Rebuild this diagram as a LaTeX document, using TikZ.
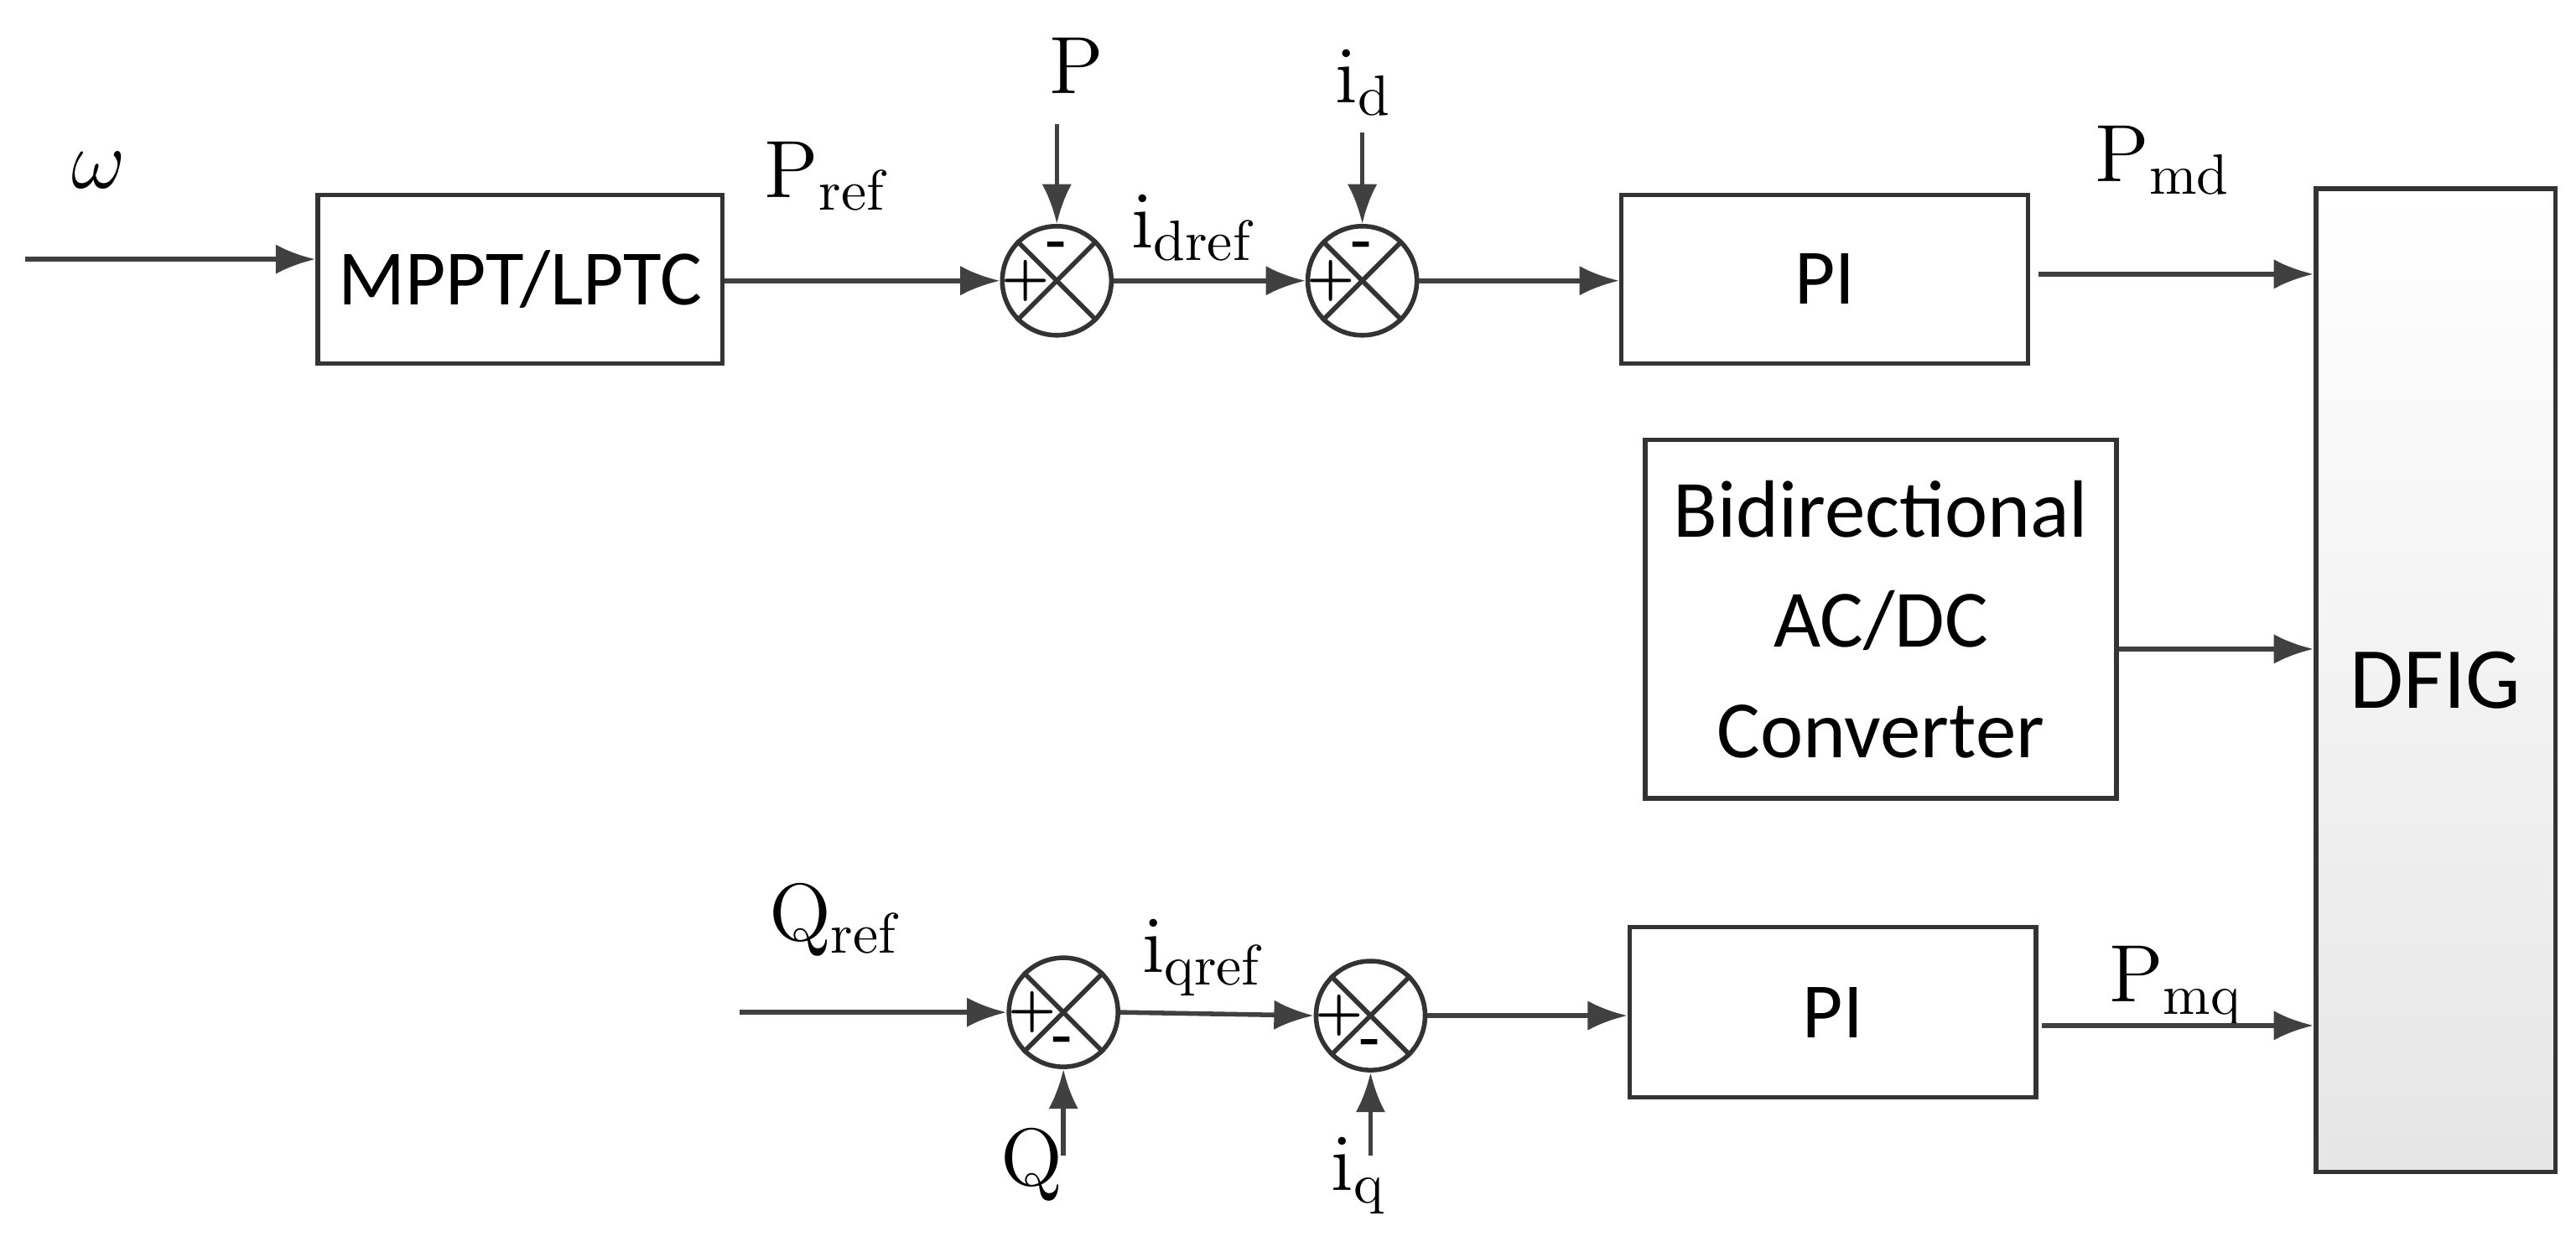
\documentclass[tikz,border=0pt]{standalone}
\usepackage{fontspec}
\newfontfamily\boxfont{Carlito}
\usetikzlibrary{arrows.meta}
\tikzset{
  blk/.style={draw=black!80, thick, font=\boxfont\fontsize{13.5}{16}\selectfont, align=center, inner sep=0pt},
  sig/.style={font=\fontsize{14}{16}\selectfont},
  sumj/.style={draw=black!80, thick, circle, minimum size=0.66cm, inner sep=0pt},
  sgn/.style={font=\bfseries\fontsize{9}{9}\selectfont, inner sep=0pt},
  arr/.style={-{Latex[length=2.4mm,width=1.8mm]}, thick, draw=black!75}
}
\newcommand{\sumx}[1]{%
  \draw[thick, draw=black!80] (#1.45) -- (#1.225) (#1.135) -- (#1.315);}
\begin{document}
\begin{tikzpicture}[x=0.01cm, y=-0.01cm]
\useasboundingbox (0,0) rectangle (1560,755);
% Blocks
\node[blk, minimum width=2.45cm, minimum height=1.02cm] (mppt) at (315,169) {MPPT/LPTC};
\node[blk, minimum width=2.46cm, minimum height=1.02cm] (pi1) at (1105,169) {PI};
\node[blk, minimum width=2.46cm, minimum height=1.03cm] (pi2) at (1110,613) {PI};
\node[blk, minimum width=2.85cm, minimum height=2.17cm, font=\boxfont\fontsize{14}{19}\selectfont] (conv) at (1139,375) {Bidirectional\\AC/DC\\Converter};
\node[blk, minimum width=1.45cm, minimum height=5.95cm, top color=white, bottom color=black!10, font=\boxfont\fontsize{15}{18}\selectfont] (dfig) at (1475,412) {DFIG};
% Summing junctions
\node[sumj] (s1) at (640,170) {}; \sumx{s1}
\node[sumj] (s2) at (825,170) {}; \sumx{s2}
\node[sumj] (s3) at (644,613) {}; \sumx{s3}
\node[sumj] (s4) at (830,615) {}; \sumx{s4}
\node[sgn] at ([xshift=-0.19cm]s1.center) {+}; \node[sgn] at ([yshift=0.19cm]s1.center) {-};
\node[sgn] at ([xshift=-0.19cm]s2.center) {+}; \node[sgn] at ([yshift=0.19cm]s2.center) {-};
\node[sgn] at ([xshift=-0.19cm]s3.center) {+}; \node[sgn] at ([yshift=-0.19cm]s3.center) {-};
\node[sgn] at ([xshift=-0.19cm]s4.center) {+}; \node[sgn] at ([yshift=-0.19cm]s4.center) {-};
% Free ends
\coordinate (win) at (15,157);
\coordinate (pin) at (640,75);
\coordinate (idin) at (825,80);
\coordinate (qrin) at (448,613);
\coordinate (qin) at (644,700);
\coordinate (iqin) at (830,700);
% Labels
\node[sig] (lw) at (60,103) {$\omega$};
\node[sig] (lpref) at (500,107) {$\mathrm{P_{ref}}$};
\node[sig] (lp) at (652,40) {$\mathrm{P}$};
\node[sig] (lidref) at (722,138) {$\mathrm{i_{dref}}$};
\node[sig] (lid) at (826,50) {$\mathrm{i_{d}}$};
\node[sig] (lpmd) at (1310,97) {$\mathrm{P_{md}}$};
\node[sig] (lqref) at (505,557) {$\mathrm{Q_{ref}}$};
\node[sig] (lq) at (625,705) {$\mathrm{Q}$};
\node[sig] (liqref) at (728,580) {$\mathrm{i_{qref}}$};
\node[sig] (liq) at (823,712) {$\mathrm{i_{q}}$};
\node[sig] (lpmq) at (1318,597) {$\mathrm{P_{mq}}$};
% Connectors
\draw[arr] (win) -- (win -| mppt.west);
\draw[arr] (mppt.east |- s1) -- (s1.west);
\draw[arr] (pin) -- (s1.north);
\draw[arr] (s1.east) -- (s2.west);
\draw[arr] (idin) -- (s2.north);
\draw[arr] (s2.east) -- (pi1.west |- s2);
\draw[arr] ([xshift=0.05cm,yshift=0.03cm]pi1.east) -- ([yshift=0.03cm]pi1.east -| dfig.west);
\draw[arr] ([yshift=-0.18cm]conv.east) -- ([yshift=-0.18cm]conv.east -| dfig.west);
\draw[arr] (qrin) -- (s3.west);
\draw[arr] (qin) -- (s3.south);
\draw[arr] (s3.east) -- (s4.west);
\draw[arr] (iqin) -- (s4.south);
\draw[arr] (s4.east) -- (pi2.west |- s4);
\draw[arr] ([xshift=0.02cm,yshift=-0.08cm]pi2.east) -- ([yshift=-0.08cm]pi2.east -| dfig.west);
\end{tikzpicture}
\end{document}
